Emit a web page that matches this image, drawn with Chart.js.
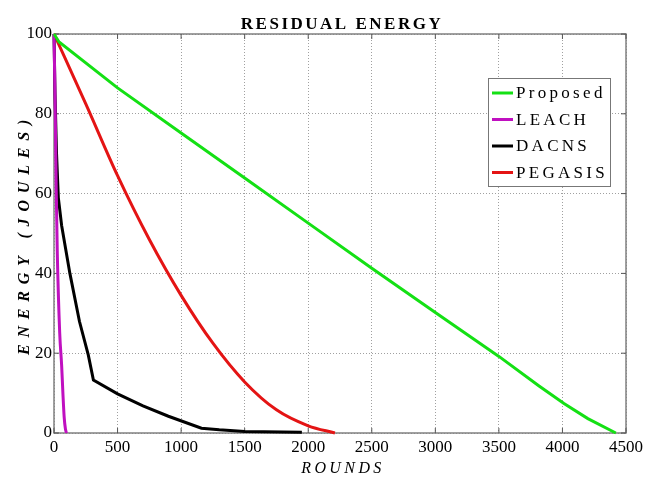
<!DOCTYPE html>
<html><head><meta charset="utf-8">
<script src="https://cdn.jsdelivr.net/npm/chart.js@4/dist/chart.umd.min.js"></script>
<style>html,body{margin:0;padding:0;background:#fff}</style>
</head><body>
<canvas id="c" width="647" height="478"></canvas>
<script>
const titleText = "RESIDUAL ENERGY";
const xTitle = "ROUNDS";
const yTitle = "ENERGY (JOULES)";
const xTicks = [0, 500, 1000, 1500, 2000, 2500, 3000, 3500, 4000, 4500];
const yTicks = [0, 20, 40, 60, 80, 100];
const seriesNames = ["Proposed", "LEACH", "DACNS", "PEGASIS"];

const proposedX = [0, 40, 500, 1000, 1500, 2000, 2500, 3000, 3500, 3816, 4012, 4200, 4420];
const proposedY = [100, 98, 86.5, 75.2, 63.9, 52.6, 41.3, 30.2, 19.2, 11.8, 7.4, 3.6, 0];
const leachX = [0, 10, 18, 26, 45, 60, 70, 80, 90, 98];
const leachY = [100, 80, 60, 45, 25, 17, 10, 4, 1, 0];
const dacnsX = [0, 8, 20, 34, 60, 125, 200, 270, 310, 500, 700, 900, 1160, 1300, 1500, 1950];
const dacnsY = [100, 85, 70, 59, 52, 40, 28, 19.5, 13.3, 9.8, 6.8, 4.2, 1.2, 0.8, 0.4, 0.2];
const pegasisX = [0, 250, 500, 750, 1000, 1250, 1500, 1750, 2000, 2210];
const pegasisY = [100, 82.5, 64.5, 48.5, 34.5, 22.5, 12.8, 5.8, 1.8, 0];

const colors = ["#14e014", "#c010c0", "#000000", "#e41414"];
const pts = (xs, ys) => xs.map((x, i) => ({x: x, y: ys[i]}));

const serif = '"Liberation Serif", "Times New Roman", serif';

const decor = {
  id: 'decor',
  beforeDatasetsDraw(chart) {
    const {ctx, chartArea: a} = chart;
    const xs = chart.scales.x, ys = chart.scales.y;
    ctx.save();
    ctx.strokeStyle = '#808080';
    ctx.lineWidth = 1.5;
    ctx.strokeRect(a.left, a.top, a.right - a.left, a.bottom - a.top);
    ctx.lineWidth = 1;
    ctx.strokeStyle = '#555';
    ctx.beginPath();
    xTicks.forEach(v => {
      const p = xs.getPixelForValue(v);
      ctx.moveTo(p, a.bottom); ctx.lineTo(p, a.bottom - 5);
      ctx.moveTo(p, a.top); ctx.lineTo(p, a.top + 5);
    });
    yTicks.forEach(v => {
      const p = ys.getPixelForValue(v);
      ctx.moveTo(a.left, p); ctx.lineTo(a.left + 5, p);
      ctx.moveTo(a.right, p); ctx.lineTo(a.right - 5, p);
    });
    ctx.stroke();
    ctx.restore();
  },
  afterDraw(chart) {
    const {ctx} = chart;
    ctx.save();
    ctx.fillStyle = '#000';
    ctx.textAlign = 'center';
    ctx.textBaseline = 'alphabetic';
    ctx.font = 'bold 17px ' + serif;
    ctx.letterSpacing = '2.5px';
    ctx.fillText(titleText, 342, 29);
    ctx.font = 'italic 16px ' + serif;
    ctx.letterSpacing = '3.4px';
    ctx.fillText(xTitle, 343, 473);
    ctx.save();
    ctx.translate(29, 237);
    ctx.rotate(-Math.PI / 2);
    ctx.font = 'italic bold 16px ' + serif;
    ctx.letterSpacing = '6.8px';
    ctx.fillText(yTitle, 3, 0);
    ctx.restore();
    const bx = 488, by = 78, bw = 122, bh = 108;
    ctx.fillStyle = '#fff';
    ctx.fillRect(bx, by, bw, bh);
    ctx.strokeStyle = '#777';
    ctx.lineWidth = 1;
    ctx.strokeRect(bx + 0.5, by + 0.5, bw, bh);
    ctx.font = '17px ' + serif;
    ctx.letterSpacing = '3.3px';
    ctx.textAlign = 'left';
    ctx.textBaseline = 'middle';
    chart.data.datasets.forEach((d, i) => {
      const yy = 93 + i * 26.5;
      ctx.strokeStyle = d.borderColor;
      ctx.lineWidth = 3;
      ctx.beginPath();
      ctx.moveTo(492, yy); ctx.lineTo(513, yy);
      ctx.stroke();
      ctx.fillStyle = '#000';
      ctx.fillText(d.label, 516, yy + 1);
    });
    ctx.restore();
  }
};

const mk = (i, xs, ys, mode) => ({
  label: seriesNames[i],
  data: pts(xs, ys),
  borderColor: colors[i],
  backgroundColor: colors[i],
  borderWidth: 3,
  pointRadius: 0,
  fill: false,
  clip: 4,
  tension: mode === 'mono' ? 0.4 : 0,
  cubicInterpolationMode: mode === 'mono' ? 'monotone' : 'default'
});

new Chart(document.getElementById('c'), {
  type: 'line',
  data: {
    datasets: [
      mk(0, proposedX, proposedY, 'lin'),
      mk(1, leachX, leachY, 'mono'),
      mk(2, dacnsX, dacnsY, 'lin'),
      mk(3, pegasisX, pegasisY, 'mono')
    ]
  },
  options: {
    responsive: false,
    animation: false,
    devicePixelRatio: 1,
    layout: {padding: {left: 0, right: 18.5, top: 34, bottom: 0}},
    plugins: {legend: {display: false}, title: {display: false}, tooltip: {enabled: false}},
    scales: {
      x: {
        type: 'linear', min: 0, max: 4500,
        afterBuildTicks: s => { s.ticks = xTicks.map(v => ({value: v})); },
        afterFit: s => { s.height = 45; },
        grid: {color: '#a0a0a0', drawTicks: false, lineWidth: 1},
        border: {display: false, dash: [1, 2]},
        ticks: {color: '#000', font: {family: serif, size: 17}, padding: 4, maxRotation: 0, autoSkip: false,
                callback: v => String(v)}
      },
      y: {
        type: 'linear', min: 0, max: 100,
        afterBuildTicks: s => { s.ticks = yTicks.map(v => ({value: v})); },
        afterFit: s => { s.width = 54; },
        grid: {color: '#a0a0a0', drawTicks: false, lineWidth: 1},
        border: {display: false, dash: [1, 2]},
        ticks: {color: '#000', font: {family: serif, size: 17}, padding: 2, callback: v => String(v)}
      }
    }
  },
  plugins: [decor]
});
</script>
</body></html>
